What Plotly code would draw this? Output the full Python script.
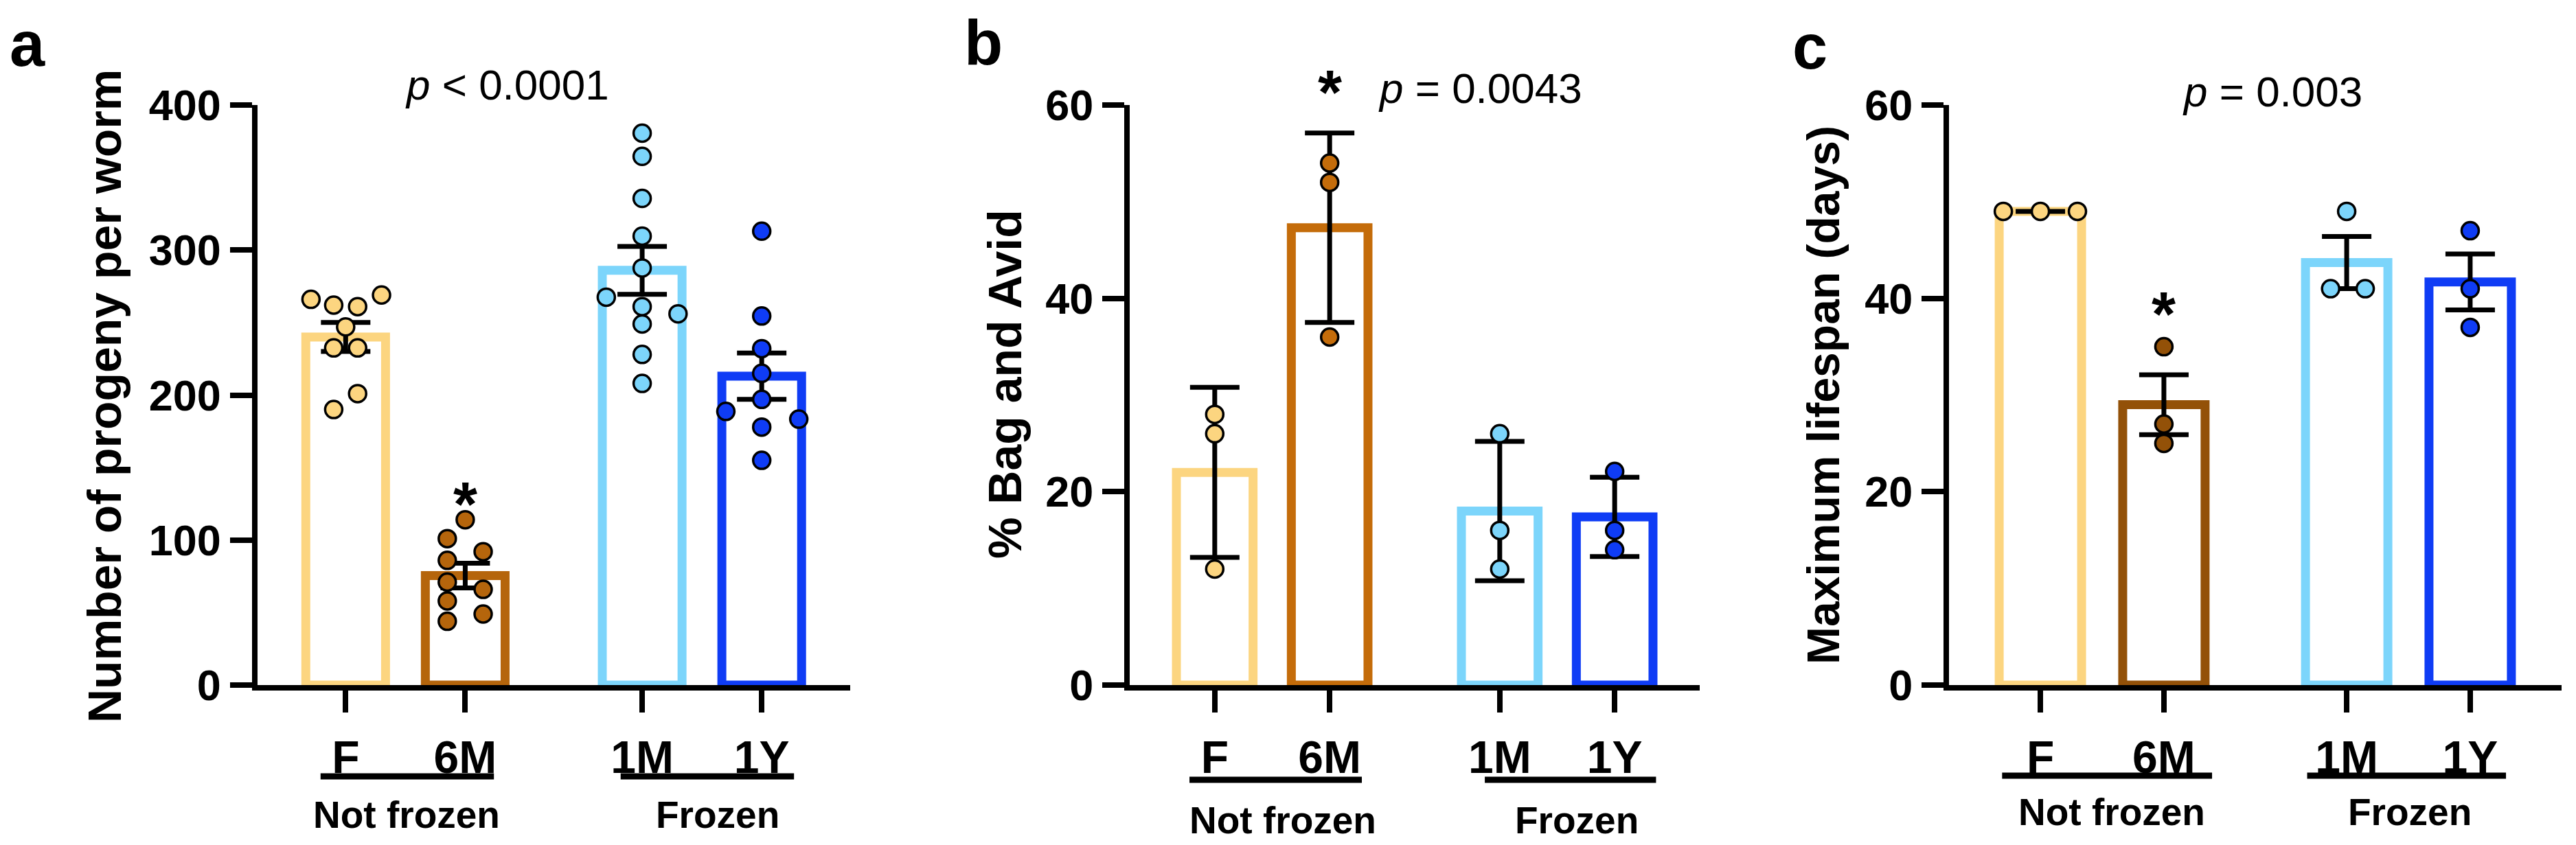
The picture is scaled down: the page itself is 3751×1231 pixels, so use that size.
import plotly.graph_objects as go

# category positions (gap between the two groups)
categories = ['F', '6M', '1M', '1Y']
cat_x = [0, 1, 2.48, 3.48]

# colours per category (6M shade differs per panel)
col_f = '#FCD580'
col_1m = '#7CD5FB'
col_1y = '#0F3CF5'
col_6m_a = '#B5650C'
col_6m_b = '#C46C0A'
col_6m_c = '#935108'

# ---- panel a: number of progeny per worm
a_bar = [240, 75.5, 286, 213]
a_err = [10, 8.5, 16.5, 16]
a_f = [266, 262, 261, 269, 247, 232.5, 232.5, 201, 190]
a_f_dx = [-0.29, -0.1, 0.1, 0.3, 0, -0.1, 0.1, 0.1, -0.1]
a_6m = [101, 114, 92, 86, 71, 66, 58, 49, 44]
a_6m_dx = [-0.15, 0, 0.15, -0.15, -0.15, 0.15, -0.15, 0.15, -0.15]
a_1m = [380.6, 364.6, 335.6, 309.6, 287.6, 267.5, 261, 256, 249, 228, 208]
a_1m_dx = [0, 0, 0, 0, 0, -0.3, 0, 0.3, 0, 0, 0]
a_1y = [313, 254.5, 232, 215, 188.7, 197, 183.4, 177.9, 155]
a_1y_dx = [0, 0, 0, 0, -0.3, 0, 0.31, 0, 0]

# ---- panel b: % bag and avid
b_bar = [22, 47.3, 18, 17.4]
b_err = [8.8, 9.8, 7.2, 4.1]
b_f = [28, 26, 12]
b_6m = [54, 52, 36]
b_1m = [26, 16, 12]
b_1y = [22.1, 16, 14]

# ---- panel c: maximum lifespan (days)
c_bar = [49, 29, 43.7, 41.7]
c_err = [0, 3.1, 2.7, 2.9]
c_f = [49, 49, 49]
c_f_dx = [-0.3, 0, 0.3]
c_6m = [35, 27, 25]
c_1m = [49, 41, 41]
c_1m_dx = [0, -0.13, 0.15]
c_1y = [47, 41, 37]

FONT = 'Arial, Liberation Sans, sans-serif'
W, H = 3751, 1231
OFF = 8  # page body margin shifts the figure by this much


def fx(px):
    return (px - OFF) / W


def fy(px):
    return (H - (px - OFF)) / H


panels = [
    dict(xa='x', ya='y', bar=a_bar, err=a_err,
         colors=[col_f, col_6m_a, col_1m, col_1y],
         pts=[(a_f, a_f_dx), (a_6m, a_6m_dx), (a_1m, a_1m_dx), (a_1y, a_1y_dx)],
         px=(374.5, 1238), yrange=[0, 400], yticks=[0, 100, 200, 300, 400]),
    dict(xa='x2', ya='y2', bar=b_bar, err=b_err,
         colors=[col_f, col_6m_b, col_1m, col_1y],
         pts=[(b_f, None), (b_6m, None), (b_1m, None), (b_1y, None)],
         px=(1645, 2475), yrange=[0, 60], yticks=[0, 20, 40, 60]),
    dict(xa='x3', ya='y3', bar=c_bar, err=c_err,
         colors=[col_f, col_6m_c, col_1m, col_1y],
         pts=[(c_f, c_f_dx), (c_6m, None), (c_1m, c_1m_dx), (c_1y, None)],
         px=(2838, 3730), yrange=[0, 60], yticks=[0, 20, 40, 60]),
]

fig = go.Figure()
for p in panels:
    fig.add_trace(go.Bar(
        x=cat_x, y=p['bar'], width=0.667, xaxis=p['xa'], yaxis=p['ya'],
        marker=dict(color='rgba(255,255,255,0)',
                    line=dict(color=p['colors'], width=13)),
        showlegend=False))
    fig.add_trace(go.Scatter(
        x=cat_x, y=p['bar'], mode='markers', xaxis=p['xa'], yaxis=p['ya'],
        marker=dict(size=1, opacity=0),
        error_y=dict(type='data', array=p['err'], color='black',
                     thickness=7, width=36),
        showlegend=False))
    for i, (vals, dx) in enumerate(p['pts']):
        if dx is None:
            dx = [0] * len(vals)
        fig.add_trace(go.Scatter(
            x=[cat_x[i] + d for d in dx], y=vals, mode='markers',
            xaxis=p['xa'], yaxis=p['ya'], cliponaxis=False,
            marker=dict(size=25, color=p['colors'][i],
                        line=dict(color='black', width=3.5)),
            showlegend=False))

ydom = [fy(998), fy(153)]
axis_common = dict(showline=True, linewidth=8, linecolor='black',
                   ticks='outside', ticklen=32, tickwidth=8, tickcolor='black',
                   showgrid=False, zeroline=False, automargin=False)
layout = dict(width=W, height=H,
              margin=dict(l=0, r=0, t=0, b=0, pad=0, autoexpand=False),
              paper_bgcolor='white', plot_bgcolor='white', showlegend=False,
              font=dict(family=FONT, color='black'))
for k, p in enumerate(panels):
    sfx = '' if k == 0 else str(k + 1)
    layout['xaxis' + sfx] = dict(
        domain=[fx(p['px'][0]), fx(p['px'][1])], range=[-0.74, 4.22],
        anchor=p['ya'], tickvals=cat_x, ticktext=categories,
        ticklabelstandoff=9,
        tickfont=dict(size=66, family=FONT, weight='bold'), **axis_common)
    layout['yaxis' + sfx] = dict(
        domain=ydom, range=p['yrange'], anchor=p['xa'], tickvals=p['yticks'],
        tickfont=dict(size=63, family=FONT, weight='bold'), **axis_common)
fig.update_layout(**layout)


def note(text, x, y, xref='paper', size=54, bold=True, angle=0):
    return dict(text=text, x=x, y=fy(y), xref=xref, yref='paper',
                xanchor='center', yanchor='middle', textangle=angle,
                showarrow=False,
                font=dict(size=size, weight='bold' if bold else 'normal'))


ann = []
# panel letters
for txt, x, y in [('a', 40, 64), ('b', 1432, 62), ('c', 2635, 68)]:
    ann.append(note(txt, fx(x), y, size=92))
# y axis titles
for txt, x, y, s in [('Number of progeny per worm', 152, 577, 68),
                     ('% Bag and Avid', 1463, 560, 68),
                     ('Maximum lifespan (days)', 2655, 576, 66)]:
    ann.append(note(txt, fx(x), y, size=s, angle=-90))
# p values
for txt, xr, x, y in [('<i>p</i> &lt; 0.0001', 'x', 1.35, 124),
                      ('<i>p</i> = 0.0043', 'x2', 2.31, 128),
                      ('<i>p</i> = 0.003', 'x3', 1.88, 134)]:
    ann.append(note(txt, x, y, xref=xr, size=62, bold=False))
# asterisks over 6M
for xr, y in [('x', 735), ('x2', 135), ('x3', 458)]:
    ann.append(note('*', 1, y, xref=xr, size=90))
# group labels and lines
groups = [('x', [(-0.21, 1.24, 0.51, 'Not frozen'), (2.30, 3.75, 3.11, 'Frozen')], 1131, 1187),
          ('x2', [(-0.22, 1.28, 0.59, 'Not frozen'), (2.35, 3.84, 3.15, 'Frozen')], 1136, 1195),
          ('x3', [(-0.31, 1.39, 0.58, 'Not frozen'), (2.16, 3.77, 2.99, 'Frozen')], 1130, 1183)]
shapes = []
for xr, items, ly, ty in groups:
    for x0, x1, xc, txt in items:
        shapes.append(dict(type='line', xref=xr, yref='paper', x0=x0, x1=x1,
                           y0=fy(ly), y1=fy(ly),
                           line=dict(color='black', width=9)))
        ann.append(note(txt, xc, ty, xref=xr, size=55))
fig.update_layout(annotations=ann, shapes=shapes)

fig.write_html('out.html')
